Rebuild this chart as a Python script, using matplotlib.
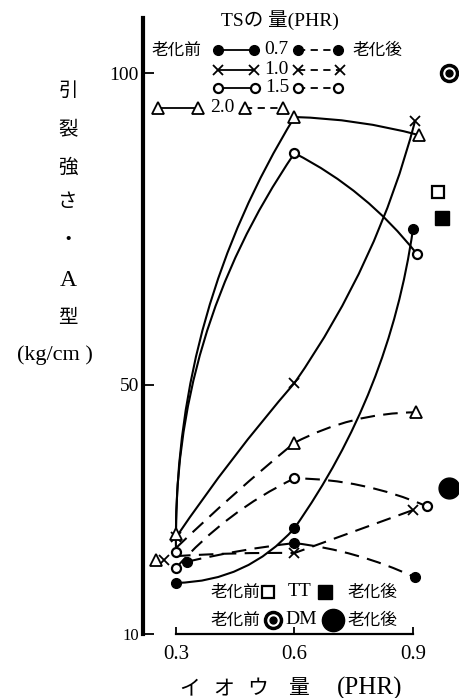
import numpy as np
import matplotlib.pyplot as plt
from matplotlib.lines import Line2D
from matplotlib.path import Path
from matplotlib.patches import PathPatch

W, H = 459, 698
CJK = 'Noto Sans CJK JP'
SERIF = ['Liberation Serif', 'Noto Sans CJK JP']

# tensile strength (kg/cm) vs sulfur (PHR), by TS amount (PHR)
# before ageing (solid)
ts07_before_x = [0.3, 0.6, 0.9]
ts07_before = [18.2, 27.0, 75.0]
ts10_before_x = [0.3, 0.6, 0.905]
ts10_before = [25.5, 50.3, 92.3]
ts15_before_x = [0.3, 0.6, 0.91]
ts15_before = [23.2, 87.2, 71.0]
ts20_before_x = [0.3, 0.6, 0.915]
ts20_before = [26.0, 93.0, 90.1]
# after ageing (dashed)
ts07_after_x = [0.328, 0.6, 0.905]
ts07_after = [21.6, 24.6, 19.1]
ts10_after_x = [0.3, 0.6, 0.9]
ts10_after = [22.5, 23.0, 29.9]
ts15_after_x = [0.3, 0.6, 0.935]
ts15_after = [20.6, 35.0, 30.5]
ts20_after_x = [0.3, 0.6, 0.908]
ts20_after = [23.8, 40.7, 45.6]
# start points of 1.0 / 2.0 after ageing, printed just left of 0.3
ts10_after_start = (0.27, 21.9)
ts20_after_start = (0.25, 21.9)

# reference accelerators (single points)
tt_before = (0.963, 80.9)
tt_after = (0.973, 76.8)
dm_before = (0.991, 100.0)
dm_after = (0.991, 33.4)

ts_labels = ['0.7', '1.0', '1.5', '2.0']

# how much each hand-drawn segment bows (+ up/left, - down/right)
bow_before = {'0.7': [-0.22, -0.12], '1.0': [0.03, -0.09],
              '1.5': [0.16, 0.11], '2.0': [0.14, 0.06]}
bow_after = {'0.7': [0.03, 0.08], '1.0': [0.02, 0.0],
             '1.5': [0.10, 0.10], '2.0': [0.02, 0.12]}

mk = {
    '0.7': dict(marker='o', markersize=7, markerfacecolor='black', markeredgecolor='black'),
    '1.0': dict(marker='x', markersize=6.5, markeredgewidth=1.3, markeredgecolor='black'),
    '1.5': dict(marker='o', markersize=6.5, markerfacecolor='white', markeredgecolor='black', markeredgewidth=1.6),
    '2.0': dict(marker='^', markersize=8, markerfacecolor='white', markeredgecolor='black', markeredgewidth=1.3),
}
DASH = (0, (7, 4))

fig = plt.figure(figsize=(W / 100, H / 100), dpi=100)
ax = fig.add_axes([143 / W, 1 - 634 / H, 1 - 143 / W, (634 - 18) / H])
ax.set_xlim(0.2165, 1.0165)
ax.set_ylim(10, 108.9)


def curve(x, y, bows, **style):
    # chain of quadratic bezier segments through the points
    P = ax.transData.transform(np.column_stack([x, y]))
    verts, codes = [P[0]], [Path.MOVETO]
    for k in range(len(P) - 1):
        a, b = P[k], P[k + 1]
        d = b - a
        c = (a + b) / 2 + bows[k] * np.array([-d[1], d[0]])
        verts += [c, b]
        codes += [Path.CURVE3, Path.CURVE3]
    V = ax.transData.inverted().transform(np.array(verts))
    ax.add_patch(PathPatch(Path(V, codes), fill=False, color='black', **style))


before = [(ts07_before_x, ts07_before), (ts10_before_x, ts10_before),
          (ts15_before_x, ts15_before), (ts20_before_x, ts20_before)]
after = [(ts07_after_x, ts07_after), (ts10_after_x, ts10_after),
         (ts15_after_x, ts15_after), (ts20_after_x, ts20_after)]

for lab, (x, y) in zip(ts_labels, before):
    curve(x, y, bow_before[lab], lw=1.5, zorder=2)
    ax.plot(x, y, ls='none', zorder=3, clip_on=False, **mk[lab])
for lab, (x, y) in zip(ts_labels, after):
    curve(x, y, bow_after[lab], lw=1.5, ls=DASH, zorder=2)
    if lab == '1.0':
        x, y = [ts10_after_start[0]] + x[1:], [ts10_after_start[1]] + y[1:]
    if lab == '2.0':
        x, y = [ts20_after_start[0]] + x[1:], [ts20_after_start[1]] + y[1:]
    ax.plot(x, y, ls='none', zorder=3, clip_on=False, **mk[lab])

ax.plot(*tt_before, marker='s', ms=9, mfc='white', mec='black', mew=1.6, clip_on=False)
ax.plot(*tt_after, marker='s', ms=10, mfc='black', mec='black', clip_on=False)
ax.plot(*dm_before, marker='o', ms=13, mfc='black', mec='black', clip_on=False)
ax.plot(*dm_before, marker='o', ms=8, mfc='white', mec='white', clip_on=False)
ax.plot(*dm_before, marker='o', ms=5, mfc='black', mec='black', clip_on=False)
ax.plot(*dm_after, marker='o', ms=15, mfc='black', mec='black', clip_on=False)

# axes styling
for s in ['top', 'right']:
    ax.spines[s].set_visible(False)
ax.spines['left'].set_linewidth(3)
ax.spines['bottom'].set_linewidth(1.6)
ax.spines['bottom'].set_bounds(0.3, 0.9)
ax.set_xticks([0.3, 0.6, 0.9])
ax.set_xticklabels(['0.3', '0.6', '0.9'], family=SERIF, fontsize=15)
ax.set_yticks([10, 50, 100])
ax.set_yticklabels(['10', '50', '100'], family=SERIF, fontsize=14)
ax.get_yticklabels()[0].set_fontsize(12)
ax.tick_params(axis='x', direction='in', length=5, width=1.3, pad=8)
ax.tick_params(axis='y', direction='in', length=8, width=1.3, pad=3)


def fx(px):
    return px / W


def fy(py):
    return 1 - py / H


def txt(px, py, s, size=12, family=CJK, **kw):
    fig.text(fx(px), fy(py), s, fontsize=size, family=family,
             ha='center', va='center', **kw)


def sample(x0, x1, py, ls, m):
    fig.add_artist(Line2D([fx(x0), fx(x1)], [fy(py), fy(py)],
                          transform=fig.transFigure, color='black',
                          lw=1.3, ls=ls, **m))


def dot(px, py, **m):
    fig.add_artist(Line2D([fx(px)], [fy(py)], transform=fig.transFigure, **m))


# y label, written vertically
for ch, py in [('引', 90), ('裂', 130), ('強', 167), ('さ', 202), ('・', 240)]:
    txt(68, py, ch, size=14)
txt(68, 280, 'A', size=17, family=SERIF)
txt(68, 317, '型', size=14)
txt(55, 355, '(kg/cm )', size=16, family=SERIF)

# x label
for s, px in [('イ', 190), ('オ', 224), ('ウ', 258), ('量', 298)]:
    txt(px, 688, s, size=15)
txt(370, 688, '(PHR)', size=18, family=SERIF)

# TS legend
txt(280, 20, 'TSの 量(PHR)', size=14, family=SERIF)
txt(176, 50, '老化前', size=12)
txt(377, 50, '老化後', size=12)
rows = [('0.7', 50, 218, 254, 276, 298, 338),
        ('1.0', 70, 218, 254, 276, 298, 340),
        ('1.5', 88, 218, 255, 277, 298, 338),
        ('2.0', 108, 158, 198, 222, 245, 283)]
for lab, py, a0, a1, tx, b0, b1 in rows:
    sample(a0, a1, py, '-', mk[lab])
    txt(tx, py, lab, size=14, family=SERIF)
    sample(b0, b1, py, (0, (4, 3)), mk[lab])

# TT / DM legend
txt(235, 592, '老化前', size=12)
txt(372, 592, '老化後', size=12)
txt(300, 592, 'TT', size=14, family=SERIF)
dot(268, 592, marker='s', ms=9, mfc='white', mec='black', mew=1.6)
dot(325, 592, marker='s', ms=10, mfc='black', mec='black')
txt(235, 620, '老化前', size=12)
txt(372, 620, '老化後', size=12)
txt(301, 620, 'DM', size=14, family=SERIF)
for ms, c in [(13, 'black'), (8, 'white'), (5, 'black')]:
    dot(273, 620, marker='o', ms=ms, mfc=c, mec=c)
dot(333, 620, marker='o', ms=16, mfc='black', mec='black')

fig.savefig('out.png', dpi=100)
